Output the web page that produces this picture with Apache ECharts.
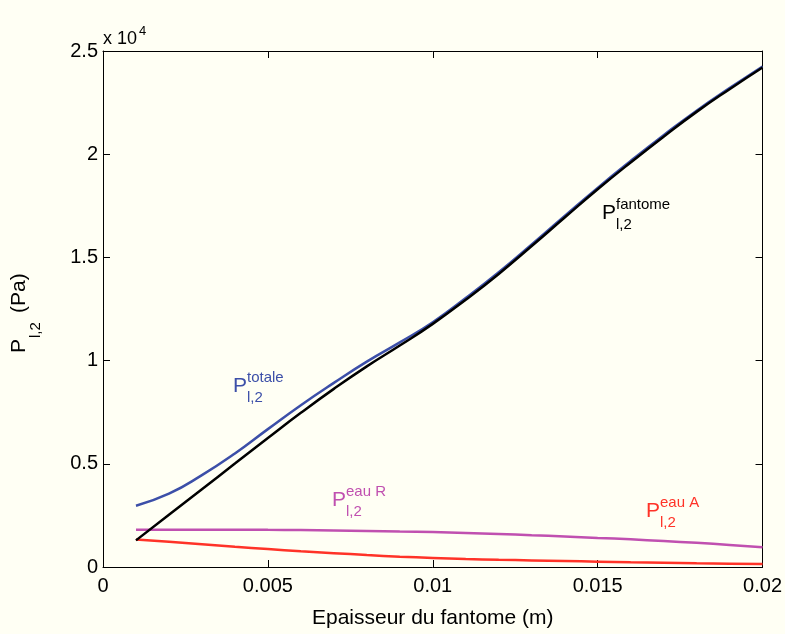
<!DOCTYPE html>
<html>
<head>
<meta charset="utf-8">
<script src="https://cdn.jsdelivr.net/npm/echarts@6/dist/echarts.min.js"></script>
<style>
html,body{margin:0;padding:0;background:#FFFFF4;}
#c{width:785px;height:634px;}
</style>
</head>
<body>
<div id="c"></div>
<script>
// Thickness of phantom (m)
var thickness = [0.001,0.002,0.003,0.004,0.005,0.006,0.007,0.008,0.009,0.010,
                 0.011,0.012,0.013,0.014,0.015,0.016,0.017,0.018,0.019,0.020];
// Pressures (Pa)
var pTotale  = [2970,3550,4450,5500,6680,7840,8920,9950,10880,11860,
                13030,14280,15630,17010,18370,19670,20920,22110,23200,24250];
var pFantome = [1290,2530,3770,5010,6250,7470,8630,9720,10730,11780,
                12950,14200,15550,16930,18300,19600,20850,22050,23150,24200];
var pEauR    = [1800,1810,1810,1810,1800,1790,1770,1750,1720,1690,
                1650,1600,1540,1480,1410,1340,1260,1170,1070,960];
var pEauA    = [1330,1220,1100,980,870,760,670,580,500,440,
                390,350,320,290,260,230,210,180,160,140];
var xTicks = {min:0, max:0.02, interval:0.005};
var yTicks = {min:0, max:25000, interval:5000};

function pairs(xs, ys){ return xs.map(function(x,i){return [x, ys[i]];}); }

var FONT = '"Liberation Sans", Arial, Helvetica, sans-serif';
function txt(x, y, s, size, color){
  return {type:'text', x:x, y:y, style:{text:s, font:size+'px '+FONT, fill:color,
    verticalAlign:'middle', textVerticalAlign:'middle', align:'left', textAlign:'left'}};
}
function ann(x, top, color, sup){
  return {type:'group', children:[
    txt(x, top+8, 'P', 21, color),
    txt(x+14, top, sup, 15, color),
    txt(x+14, top+20, 'l,2', 15, color)
  ]};
}

var chart = echarts.init(document.getElementById('c'), null, {renderer:'canvas'});
var axisCommon = {
  type:'value',
  axisLine:{show:true, onZero:false, lineStyle:{color:'#000', width:1}},
  axisTick:{show:true, inside:true, length:7, lineStyle:{color:'#000', width:1}},
  splitLine:{show:false}
};
function ax(extra){ return Object.assign({}, JSON.parse(JSON.stringify(axisCommon)), extra); }

chart.setOption({
  backgroundColor:'#FFFFF4',
  animation:false,
  grid:{left:103, right:22, top:51, bottom:64, containLabel:false},
  xAxis:[
    ax({position:'bottom', min:xTicks.min, max:xTicks.max, interval:xTicks.interval,
        axisLabel:{fontSize:20, color:'#000', fontFamily:FONT, margin:9,
          formatter:function(v){return String(parseFloat(v.toFixed(3)));}},
        name:'Epaisseur du fantome (m)', nameLocation:'middle', nameGap:41,
        nameTextStyle:{fontSize:21, color:'#000', fontFamily:FONT}}),
    ax({position:'top', min:xTicks.min, max:xTicks.max, interval:xTicks.interval,
        axisLabel:{show:false}})
  ],
  yAxis:[
    ax({position:'left', min:yTicks.min, max:yTicks.max, interval:yTicks.interval,
        axisLabel:{fontSize:20, color:'#000', fontFamily:FONT, margin:5,
          formatter:function(v){return String(v/10000);}}}),
    ax({position:'right', min:yTicks.min, max:yTicks.max, interval:yTicks.interval,
        axisLabel:{show:false}})
  ],
  series:[
    {name:'totale', type:'line', data:pairs(thickness,pTotale), showSymbol:false, smooth:true,
     lineStyle:{color:'#3C4FA8', width:2.5}},
    {name:'eau R', type:'line', data:pairs(thickness,pEauR), showSymbol:false, smooth:true,
     lineStyle:{color:'#C050B0', width:2.5}},
    {name:'eau A', type:'line', data:pairs(thickness,pEauA), showSymbol:false, smooth:true,
     lineStyle:{color:'#FF3328', width:2.5}},
    {name:'fantome', type:'line', data:pairs(thickness,pFantome), showSymbol:false, smooth:true,
     lineStyle:{color:'#000000', width:2.5}}
  ],
  graphic:[
    txt(103, 39, 'x 10', 18, '#000'),
    txt(139, 31, '4', 13, '#000'),
    {type:'group', x:26, y:353, rotation:Math.PI/2, children:[
      txt(0, -7, 'P', 21, '#000'),
      txt(15, 10, 'l,2', 15, '#000'),
      txt(40, -7, '(Pa)', 21, '#000')
    ]},
    ann(233, 378, '#3C4FA8', 'totale'),
    ann(602, 205, '#000000', 'fantome'),
    ann(332, 492, '#C050B0', 'eau R'),
    ann(646, 503, '#FF3328', 'eau A')
  ]
});
</script>
</body>
</html>
